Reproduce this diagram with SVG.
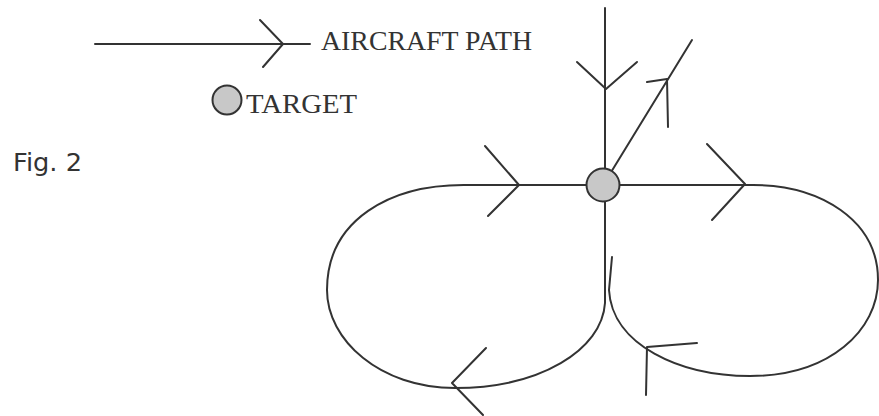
<svg xmlns="http://www.w3.org/2000/svg" width="879" height="416" viewBox="0 0 879 416">
<style>
.ln{fill:none;stroke:#333;stroke-width:2;stroke-linecap:round;stroke-linejoin:round}
.tg{fill:#c8c8c8;stroke:#333;stroke-width:2}
.lbl{font-family:"Liberation Serif","Times New Roman",serif;fill:#333}
.fig{font-family:"DejaVu Sans",Verdana,sans-serif;fill:#333}
</style>
<rect width="879" height="416" fill="#fff"/>
<g id="legend">
<g id="legend-path">
<path class="ln" d="M95 44 H310 M260 20 L283 44 L263 67"/>
<text class="lbl" x="321" y="50" font-size="27" textLength="211" lengthAdjust="spacingAndGlyphs">AIRCRAFT PATH</text>
</g>
<g id="legend-target">
<circle class="tg" cx="227" cy="100" r="14.5"/>
<text class="lbl" x="246" y="113" font-size="28" textLength="111" lengthAdjust="spacingAndGlyphs">TARGET</text>
</g>
</g>
<g id="caption">
<text class="fig" x="13" y="171" font-size="25" textLength="69" lengthAdjust="spacingAndGlyphs">Fig. 2</text>
</g>
<g id="connectors">
<path id="inbound" class="ln" d="M605 8 V185 M577 62 L606 89 L637 62"/>
<path id="outbound" class="ln" d="M605 182 L692 40 M647 82 L667 79 L668 127"/>
<path id="left-loop" class="ln" d="M605 185 H467 C390 184 327 220 327 290 C327 340 380 388 455 388 C540 388 602 350 605 303 V185"/>
<path id="left-arrows" class="ln" d="M485 146 L519 185 L488 216 M486 348 L452 383 L483 415"/>
<path id="right-loop" class="ln" d="M605 185 H753 C820 185 878 220 878 280 C878 330 830 376 750 376 C680 376 612 345 609 290 L612 257"/>
<path id="right-arrows" class="ln" d="M707 144 L745 184 L712 220 M697 343 L647 347 L646 395"/>
</g>
<g id="target">
<circle class="tg" cx="603" cy="185" r="16.5"/>
</g>
</svg>
